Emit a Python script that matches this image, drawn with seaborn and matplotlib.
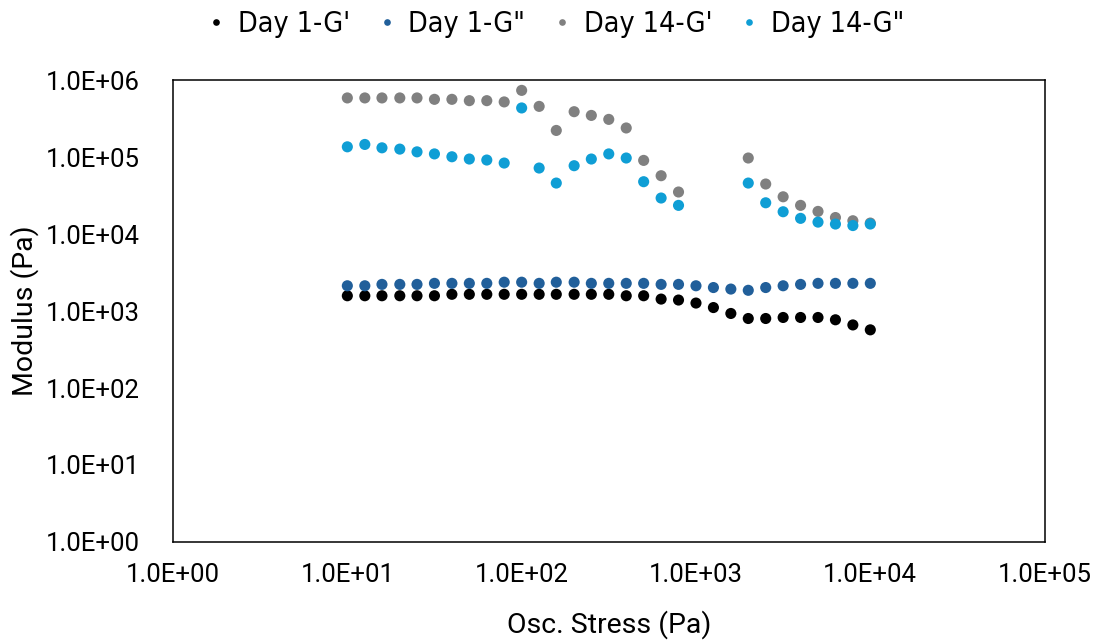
import numpy as np
import pandas as pd
import matplotlib
matplotlib.use("Agg")
import matplotlib.pyplot as plt
import matplotlib.ticker as mticker
import seaborn as sns

# Oscillatory stress sweep (Pa)
stress = [10, 12.6, 15.8, 20.0, 25.1, 31.6, 39.8, 50.1, 63.1, 79.4,
          100, 126, 158, 200, 251, 316, 398, 501, 631, 794,
          1000, 1259, 1585, 1995, 2512, 3162, 3981, 5012, 6310, 7943, 10000]

# Day 1 storage / loss modulus (Pa)
day1_g1 = [1580, 1580, 1580, 1580, 1580, 1580, 1650, 1650, 1650, 1650,
           1650, 1650, 1650, 1650, 1650, 1650, 1580, 1580, 1430, 1390,
           1270, 1110, 930, 800, 800, 825, 825, 825, 770, 660, 570]
day1_g2 = [2130, 2130, 2220, 2220, 2220, 2290, 2290, 2290, 2290, 2370,
           2370, 2290, 2370, 2370, 2290, 2290, 2290, 2290, 2220, 2220,
           2130, 2020, 1930, 1860, 2020, 2130, 2220, 2290, 2290, 2290, 2290]

# Day 14 storage / loss modulus (Pa); no readings between 1000 and 1585 Pa
day14_g1 = [587000, 587000, 587000, 587000, 587000, 563000, 563000, 541000, 541000, 521000,
            736000, 456000, 222000, 389000, 348000, 309000, 239000, 90600, 57300, 35200,
            np.nan, np.nan, np.nan, 97300, 44700, 30500, 23600, 19700, 16400, 14900, 13900]
day14_g2 = [136000, 146000, 132000, 127000, 117000, 110000, 101000, 94400, 91600, 83700,
            435000, 72100, 46000, 77300, 94400, 110000, 97300, 47900, 29400, 23600,
            np.nan, np.nan, np.nan, 46000, 25500, 19500, 16000, 14300, 13500, 12900, 13500]

series_names = ["Day 1-G'", 'Day 1-G"', "Day 14-G'", 'Day 14-G"']
series_colors = ["#000000", "#215F9A", "#808080", "#0F9ED5"]

frames = []
for name, vals in zip(series_names, [day1_g1, day1_g2, day14_g1, day14_g2]):
    frames.append(pd.DataFrame({"stress": stress, "modulus": vals, "series": name}))
df = pd.concat(frames, ignore_index=True).dropna()

sns.set_theme(style="white")
plt.rcParams["font.family"] = ["Roboto", "DejaVu Sans"]
plt.rcParams["text.color"] = "#000000"

fig = plt.figure(figsize=(10.95, 6.41), dpi=100)
ax = fig.add_axes([0.158, 0.1545, 0.796, 0.7205])

sns.scatterplot(data=df, x="stress", y="modulus", hue="series",
                hue_order=series_names, palette=series_colors,
                s=64, linewidth=0, ax=ax, legend=True)

ax.set_xscale("log")
ax.set_yscale("log")
ax.set_xlim(1, 1e5)
ax.set_ylim(1, 1e6)

fmt = mticker.FuncFormatter(lambda v, p: f"{v:.1E}")
ax.xaxis.set_major_locator(mticker.LogLocator(base=10, numticks=10))
ax.yaxis.set_major_locator(mticker.LogLocator(base=10, numticks=10))
ax.xaxis.set_minor_locator(mticker.NullLocator())
ax.yaxis.set_minor_locator(mticker.NullLocator())
ax.xaxis.set_major_formatter(fmt)
ax.yaxis.set_major_formatter(fmt)
ax.tick_params(axis="both", length=0, labelsize=18.5, colors="#000000")
ax.tick_params(axis="x", pad=15)
ax.tick_params(axis="y", pad=24)

for sp in ax.spines.values():
    sp.set_visible(True)
    sp.set_color("#000000")
    sp.set_linewidth(1.1)
ax.grid(False)

ax.set_xlabel("Osc. Stress (Pa)", fontsize=20.5, color="#000000", labelpad=17)
ax.set_ylabel("Modulus (Pa)", fontsize=20.5, color="#000000", labelpad=5)

handles, labels = ax.get_legend_handles_labels()
ax.get_legend().remove()
leg = fig.legend(handles, labels, loc="upper center", bbox_to_anchor=(0.505, 1.025),
                 ncol=4, frameon=False, markerscale=0.6, handletextpad=0.25,
                 columnspacing=0.8, handlelength=1.0,
                 prop={"family": ["DejaVu Sans"], "stretch": "condensed", "size": 20.5})
for t in leg.get_texts():
    t.set_color("#000000")

fig.savefig("out.png", dpi=100)
